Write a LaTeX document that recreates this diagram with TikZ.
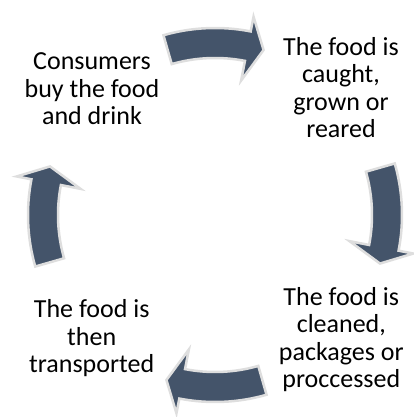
\documentclass[tikz,border=0pt]{standalone}
\usepackage{fontspec}
\setmainfont{Carlito}
\begin{document}
\begin{tikzpicture}[x=1pt,y=1pt,
  steptext/.style={align=center,inner sep=0pt,anchor=base,
    font=\fontsize{26}{27.5}\selectfont,text=black},
  cyclearrow/.style={fill=arrowfill,draw=arrowedge,line width=2.5pt,line join=miter}]
\definecolor{arrowfill}{HTML}{44546A}
\definecolor{arrowedge}{HTML}{DEDEDE}
\useasboundingbox (0,0) rectangle (413,417);

% four process steps (positioned by the baseline of their last line)
\node[steptext] (consume) at (92,292) {Consumers\\buy the food\\and drink};
\node[steptext] (catch) at (341,279) {The food is\\caught,\\grown or\\reared};
\node[steptext] (process) at (341.3,29) {The food is\\cleaned,\\packages or\\proccessed};
\node[steptext] (transport) at (91.7,44) {The food is\\then\\transported};

% curved block arrows around the cycle centre
\coordinate (centre) at (215,202);
\foreach \r in {0,-90,-180,-270}{
  \begin{scope}[shift={(centre)},rotate=\r]
    \draw[cyclearrow] (106:187) arc[start angle=106,end angle=79,radius=187]
      -- (79:202) -- (73.6:172) -- (79:137) -- (79:157)
      arc[start angle=79,end angle=106,radius=157] -- cycle;
  \end{scope}
}
\end{tikzpicture}
\end{document}
